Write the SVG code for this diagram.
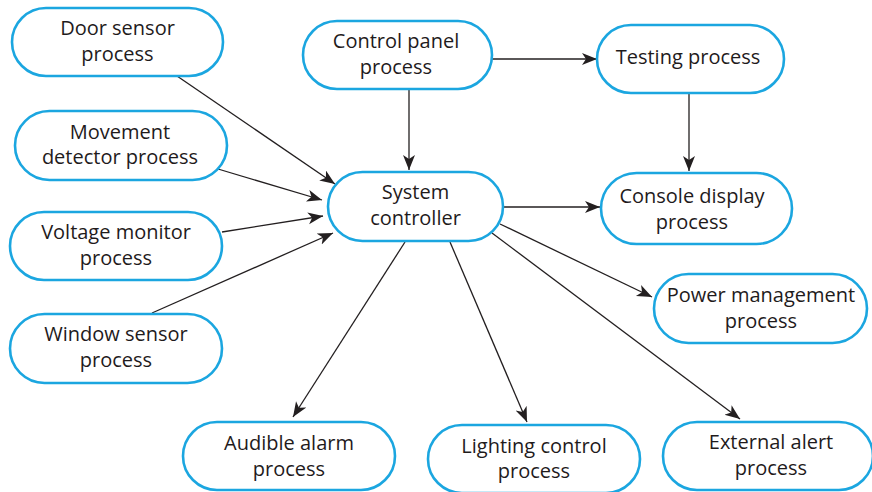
<svg xmlns="http://www.w3.org/2000/svg" width="872" height="492" viewBox="0 0 872 492">
<defs>
<style>
.node rect{fill:#fff;stroke:#1ba6e0;stroke-width:2.6}
.node text{font-family:"Open Sans","Noto Sans",sans-serif;font-size:20px;fill:#1f1b1c;text-anchor:middle}
.conn path{fill:none;stroke:#231f20;stroke-width:1.3;marker-end:url(#ah)}
</style>
<marker id="ah" markerUnits="userSpaceOnUse" markerWidth="18" markerHeight="14" refX="15" refY="6" orient="auto" viewBox="0 0 18 14">
<path d="M0,0 L15,6 L0,12 L4,6 z" fill="#231f20"/>
</marker>
</defs>
<rect width="872" height="492" fill="#fff"/>
<g class="conn">
<path d="M177,76 L335,184"/>
<path d="M218,169 L322,200"/>
<path d="M222,232 L323,216"/>
<path d="M152,313 L333,233"/>
<path d="M409,89 L409,170"/>
<path d="M492,59 L597,59"/>
<path d="M689,93 L689,171"/>
<path d="M503,207 L600,207"/>
<path d="M500,224 L652,297"/>
<path d="M492,233 L740,419"/>
<path d="M450,242 L527,422"/>
<path d="M405,242 L293,417"/>
</g>
<g id="door" class="node"><rect x="12" y="8" width="211" height="68" rx="34"/><text x="117.5" y="35">Door sensor</text><text x="117.5" y="60.5">process</text></g>
<g id="movement" class="node"><rect x="15" y="111" width="212" height="69" rx="34.5"/><text x="120" y="138.5">Movement</text><text x="120" y="164">detector process</text></g>
<g id="voltage" class="node"><rect x="10" y="212" width="212" height="68" rx="34"/><text x="116" y="239">Voltage monitor</text><text x="116" y="264.5">process</text></g>
<g id="window" class="node"><rect x="10" y="314" width="212" height="69" rx="34.5"/><text x="116" y="341">Window sensor</text><text x="116" y="367">process</text></g>
<g id="control" class="node"><rect x="303" y="21" width="189" height="68" rx="34"/><text x="396" y="48">Control panel</text><text x="396" y="73.5">process</text></g>
<g id="system" class="node"><rect x="328" y="172" width="175" height="69" rx="34.5"/><text x="415.5" y="199">System</text><text x="415.5" y="225">controller</text></g>
<g id="testing" class="node"><rect x="597" y="25" width="187" height="68" rx="34"/><text x="688" y="64">Testing process</text></g>
<g id="console" class="node"><rect x="601" y="173" width="191" height="71" rx="35.5"/><text x="692" y="203">Console display</text><text x="692" y="228.5">process</text></g>
<g id="power" class="node"><rect x="654" y="274" width="213" height="69" rx="34.5"/><text x="761" y="302">Power management</text><text x="761" y="327.5">process</text></g>
<g id="audible" class="node"><rect x="183" y="422" width="212" height="68" rx="34"/><text x="289" y="450">Audible alarm</text><text x="289" y="475.5">process</text></g>
<g id="lighting" class="node"><rect x="428" y="425" width="212" height="68" rx="34"/><text x="534" y="452.5">Lighting control</text><text x="534" y="478">process</text></g>
<g id="external" class="node"><rect x="663" y="422" width="210" height="68" rx="34"/><text x="771" y="449">External alert</text><text x="771" y="474.5">process</text></g>
</svg>
